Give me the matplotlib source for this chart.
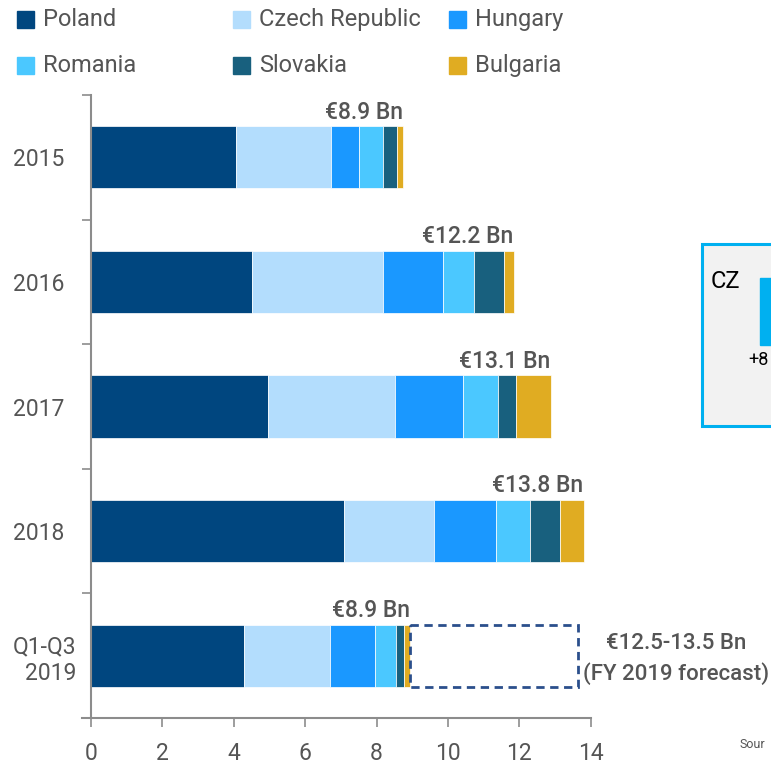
import matplotlib
matplotlib.use("Agg")
import matplotlib.pyplot as plt
from matplotlib.patches import Rectangle
import numpy as np

plt.rcParams['font.family'] = ['Roboto', 'DejaVu Sans']

# data (EUR bn)
periods = ['2015', '2016', '2017', '2018', 'Q1-Q3\n2019']
countries = ['Poland', 'Czech Republic', 'Hungary', 'Romania', 'Slovakia', 'Bulgaria']
poland = [4.07, 4.52, 4.97, 7.10, 4.30]
czech = [2.66, 3.65, 3.56, 2.51, 2.40]
hungary = [0.79, 1.68, 1.88, 1.75, 1.27]
romania = [0.67, 0.87, 1.00, 0.95, 0.57]
slovakia = [0.37, 0.84, 0.51, 0.82, 0.24]
bulgaria = [0.19, 0.28, 0.96, 0.67, 0.17]
total_labels = ['€8.9 Bn', '€12.2 Bn', '€13.1 Bn', '€13.8 Bn', '€8.9 Bn']
forecast_end = 13.65
forecast_label = '€12.5-13.5 Bn\n(FY 2019 forecast)'

colors = ['#00467f', '#b3ddfd', '#1a98ff', '#4bc8ff', '#18607e', '#e0ac22']
grey = '#555555'
axis_grey = '#8c8c8c'

W, H = 771, 765
fig = plt.figure(figsize=(W / 100, H / 100), dpi=100)


def fx(x):
    return x / W


def fy(y):
    return 1 - y / H


ax = fig.add_axes([fx(82), fy(718), fx(590.7) - fx(82), fy(95) - fy(718)])

series = [poland, czech, hungary, romania, slovakia, bulgaria]
y = np.arange(len(periods))
left = np.zeros(len(periods))
for vals, col in zip(series, colors):
    ax.barh(y, vals, left=left, height=0.5, color=col, edgecolor='white', linewidth=0.5)
    left += np.array(vals)

# totals above bars
for i, lab in enumerate(total_labels):
    ax.text(left[i], i - 0.27, lab, ha='right', va='bottom', fontsize=16.5,
            color=grey, fontweight='medium')

# forecast dashed box for 2019
last = len(periods) - 1
ax.barh(last, forecast_end - left[last], left=left[last], height=0.5, fill=False,
        edgecolor='#2b4f8c', linestyle=(0, (3, 2)), linewidth=2)
fig.text(fx(676), fy(659), forecast_label, ha='center', va='center', fontsize=16,
         color=grey, fontweight='medium', linespacing=1.45)

ax.set_xlim(-0.25, 14)
ax.set_ylim(len(periods) - 0.5, -0.5)
ax.set_xticks(np.arange(0, 15, 2))
ax.set_yticks(y)
ax.set_yticks(np.arange(-0.5, len(periods), 1), minor=True)

ax.spines['top'].set_visible(False)
ax.spines['right'].set_visible(False)
ax.spines['left'].set_position(('data', 0))
for s in ['left', 'bottom']:
    ax.spines[s].set_color(axis_grey)
    ax.spines[s].set_linewidth(1.5)

ax.tick_params(axis='x', length=6.5, width=1.2, color=axis_grey, pad=11,
               labelsize=16.5, labelcolor=grey)
ax.tick_params(axis='y', which='major', length=0, pad=56, labelsize=16.5,
               labelcolor=grey)
ax.tick_params(axis='y', which='minor', length=6.5, width=1.2, color=axis_grey)
ax.set_yticklabels(periods, ha='left', multialignment='right')

# legend, two rows of three
for i, (name, col) in enumerate(zip(countries, colors)):
    row, c = divmod(i, 3)
    x0 = [17, 233, 449][c]
    yc = [19.5, 65.5][row]
    fig.add_artist(Rectangle((fx(x0), fy(yc + 8.5)), 17 / W, 17 / H,
                             transform=fig.transFigure, color=col))
    fig.text(fx(x0 + 26), fy(yc), name, ha='left', va='center', fontsize=17,
             color=grey)

# neighbouring panel cut off at the right edge
fig.add_artist(Rectangle((fx(702), fy(426)), (W + 10 - 702) / W, (426 - 244) / H,
                         transform=fig.transFigure, facecolor='#f2f2f2',
                         edgecolor='#00b0f0', linewidth=2.2))
fig.text(fx(711), fy(282), 'CZ', ha='left', va='center', fontsize=17, color='black')
fig.add_artist(Rectangle((fx(760), fy(345)), (W + 5 - 760) / W, (345 - 278) / H,
                         transform=fig.transFigure, color='#00b0f0'))
fig.text(fx(769), fy(360), '+8', ha='right', va='center', fontsize=13, color='black')
fig.text(fx(740), fy(745), 'Sour', ha='left', va='center', fontsize=9, color=grey)

fig.savefig('out.png', dpi=100)
